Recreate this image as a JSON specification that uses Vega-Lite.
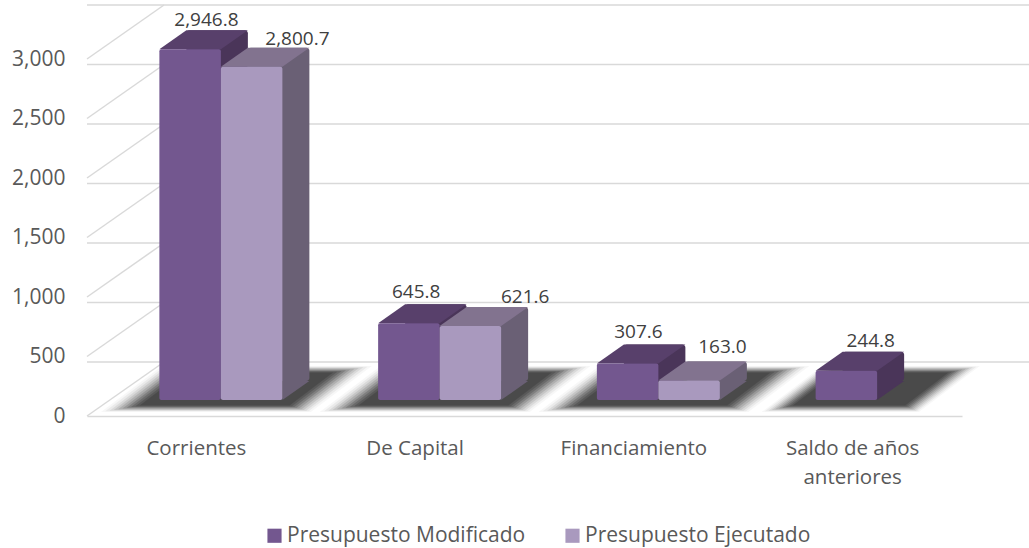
{"$schema":"https://vega.github.io/schema/vega-lite/v6.json","width":875,"height":357,"autosize":"none","padding":{"left":87,"top":59,"right":67,"bottom":132},"background":"white","config":{"view":{"stroke":null},"font":"Open Sans","axis":{"grid":false,"ticks":false},"axisX":{"labelAngle":0,"domain":true,"domainColor":"#d9d9d9","domainWidth":1.5,"labelFont":"Open Sans","labelFontSize":20.5,"labelColor":"#595959","labelPadding":22,"labelLimit":300,"labelLineHeight":29},"axisY":{"domain":false,"labelFont":"Open Sans","labelFontSize":21,"labelColor":"#595959","labelPadding":22}},"datasets":{"barras":[{"Categoria":"Corrientes","Serie":"Presupuesto Modificado","Valor":2946.8},{"Categoria":"Corrientes","Serie":"Presupuesto Ejecutado","Valor":2800.7},{"Categoria":"De Capital","Serie":"Presupuesto Modificado","Valor":645.8},{"Categoria":"De Capital","Serie":"Presupuesto Ejecutado","Valor":621.6},{"Categoria":"Financiamiento","Serie":"Presupuesto Modificado","Valor":307.6},{"Categoria":"Financiamiento","Serie":"Presupuesto Ejecutado","Valor":163.0},{"Categoria":"Saldo de años anteriores","Serie":"Presupuesto Modificado","Valor":244.8}],"marcas":[{"Marca":0},{"Marca":500},{"Marca":1000},{"Marca":1500},{"Marca":2000},{"Marca":2500},{"Marca":3000}]},"layer":[{"data":{"name":"marcas"},"mark":{"type":"rule","color":"#d9d9d9","strokeWidth":1.5,"xOffset":77,"x2Offset":77,"yOffset":-54},"encoding":{"y":{"field":"Marca","type":"quantitative","title":null,"scale":{"domain":[0,3000]},"axis":{"title":null,"labelExpr":"format(datum.value, ',')","values":[0,500,1000,1500,2000,2500,3000]}}}},{"data":{"name":"marcas"},"mark":{"type":"point","shape":"M0,0L0.77,-0.54","size":40000,"filled":false,"opacity":1,"stroke":"#d9d9d9","strokeWidth":1.5},"encoding":{"x":{"datum":"Corrientes","type":"nominal","title":null,"bandPosition":0,"scale":{"domain":["Corrientes","De Capital","Financiamiento","Saldo de años anteriores"],"paddingInner":0,"paddingOuter":0}},"y":{"field":"Marca","type":"quantitative","title":null}}},{"data":{"name":"barras"},"encoding":{"x":{"field":"Categoria","type":"nominal","sort":null,"scale":{"domain":["Corrientes","De Capital","Financiamiento","Saldo de años anteriores"],"paddingInner":0,"paddingOuter":0},"axis":{"title":null,"labelExpr":"datum.value == 'Saldo de años anteriores' ? ['Saldo de años','anteriores'] : datum.value"}},"y":{"field":"Valor","type":"quantitative","title":null}},"layer":[{"transform":[{"filter":"datum.Serie == 'Presupuesto Modificado' && datum.Categoria != 'Saldo de años anteriores'"}],"layer":[{"mark":{"type":"point","shape":"M-1.29,0.22L-0.71,-0.22L1.29,-0.22L0.71,0.22Z","size":44100,"filled":true,"fill":"#000","opacity":0.03,"strokeWidth":0,"xOffset":40,"yOffset":-27},"encoding":{"y":{"datum":0,"title":null}}},{"mark":{"type":"point","shape":"M-1.29,0.22L-0.71,-0.22L1.29,-0.22L0.71,0.22Z","size":41370,"filled":true,"fill":"#000","opacity":0.05,"strokeWidth":0,"xOffset":40,"yOffset":-27},"encoding":{"y":{"datum":0,"title":null}}},{"mark":{"type":"point","shape":"M-1.29,0.22L-0.71,-0.22L1.29,-0.22L0.71,0.22Z","size":38650,"filled":true,"fill":"#000","opacity":0.07,"strokeWidth":0,"xOffset":40,"yOffset":-27},"encoding":{"y":{"datum":0,"title":null}}},{"mark":{"type":"point","shape":"M-1.29,0.22L-0.71,-0.22L1.29,-0.22L0.71,0.22Z","size":36100,"filled":true,"fill":"#000","opacity":0.09,"strokeWidth":0,"xOffset":40,"yOffset":-27},"encoding":{"y":{"datum":0,"title":null}}},{"mark":{"type":"point","shape":"M-1.29,0.22L-0.71,-0.22L1.29,-0.22L0.71,0.22Z","size":33640,"filled":true,"fill":"#000","opacity":0.11,"strokeWidth":0,"xOffset":40,"yOffset":-27},"encoding":{"y":{"datum":0,"title":null}}},{"mark":{"type":"point","shape":"M-1.29,0.22L-0.71,-0.22L1.29,-0.22L0.71,0.22Z","size":31190,"filled":true,"fill":"#000","opacity":0.13,"strokeWidth":0,"xOffset":40,"yOffset":-27},"encoding":{"y":{"datum":0,"title":null}}},{"mark":{"type":"point","shape":"M-1.29,0.22L-0.71,-0.22L1.29,-0.22L0.71,0.22Z","size":28900,"filled":true,"fill":"#000","opacity":0.16,"strokeWidth":0,"xOffset":40,"yOffset":-27},"encoding":{"y":{"datum":0,"title":null}}},{"mark":{"type":"point","shape":"M-1.29,0.22L-0.71,-0.22L1.29,-0.22L0.71,0.22Z","size":26700,"filled":true,"fill":"#000","opacity":0.16,"strokeWidth":0,"xOffset":40,"yOffset":-27},"encoding":{"y":{"datum":0,"title":null}}},{"mark":{"type":"point","shape":"M-1.29,0.22L-0.71,-0.22L1.29,-0.22L0.71,0.22Z","size":24520,"filled":true,"fill":"#000","opacity":0.16,"strokeWidth":0,"xOffset":40,"yOffset":-27},"encoding":{"y":{"datum":0,"title":null}}},{"mark":{"type":"point","shape":"M-1.29,0.22L-0.71,-0.22L1.29,-0.22L0.71,0.22Z","size":22500,"filled":true,"fill":"#000","opacity":0.16,"strokeWidth":0,"xOffset":40,"yOffset":-27},"encoding":{"y":{"datum":0,"title":null}}}]},{"transform":[{"filter":"datum.Categoria == 'Saldo de años anteriores'"}],"layer":[{"mark":{"type":"point","shape":"M-1.04,0.22L-0.46,-0.22L1.04,-0.22L0.46,0.22Z","size":44100,"filled":true,"fill":"#000","opacity":0.03,"strokeWidth":0,"xOffset":18,"yOffset":-27},"encoding":{"y":{"datum":0,"title":null}}},{"mark":{"type":"point","shape":"M-1.04,0.22L-0.46,-0.22L1.04,-0.22L0.46,0.22Z","size":41370,"filled":true,"fill":"#000","opacity":0.05,"strokeWidth":0,"xOffset":18,"yOffset":-27},"encoding":{"y":{"datum":0,"title":null}}},{"mark":{"type":"point","shape":"M-1.04,0.22L-0.46,-0.22L1.04,-0.22L0.46,0.22Z","size":38650,"filled":true,"fill":"#000","opacity":0.07,"strokeWidth":0,"xOffset":18,"yOffset":-27},"encoding":{"y":{"datum":0,"title":null}}},{"mark":{"type":"point","shape":"M-1.04,0.22L-0.46,-0.22L1.04,-0.22L0.46,0.22Z","size":36100,"filled":true,"fill":"#000","opacity":0.09,"strokeWidth":0,"xOffset":18,"yOffset":-27},"encoding":{"y":{"datum":0,"title":null}}},{"mark":{"type":"point","shape":"M-1.04,0.22L-0.46,-0.22L1.04,-0.22L0.46,0.22Z","size":33640,"filled":true,"fill":"#000","opacity":0.11,"strokeWidth":0,"xOffset":18,"yOffset":-27},"encoding":{"y":{"datum":0,"title":null}}},{"mark":{"type":"point","shape":"M-1.04,0.22L-0.46,-0.22L1.04,-0.22L0.46,0.22Z","size":31190,"filled":true,"fill":"#000","opacity":0.13,"strokeWidth":0,"xOffset":18,"yOffset":-27},"encoding":{"y":{"datum":0,"title":null}}},{"mark":{"type":"point","shape":"M-1.04,0.22L-0.46,-0.22L1.04,-0.22L0.46,0.22Z","size":28900,"filled":true,"fill":"#000","opacity":0.16,"strokeWidth":0,"xOffset":18,"yOffset":-27},"encoding":{"y":{"datum":0,"title":null}}},{"mark":{"type":"point","shape":"M-1.04,0.22L-0.46,-0.22L1.04,-0.22L0.46,0.22Z","size":26700,"filled":true,"fill":"#000","opacity":0.16,"strokeWidth":0,"xOffset":18,"yOffset":-27},"encoding":{"y":{"datum":0,"title":null}}},{"mark":{"type":"point","shape":"M-1.04,0.22L-0.46,-0.22L1.04,-0.22L0.46,0.22Z","size":24520,"filled":true,"fill":"#000","opacity":0.16,"strokeWidth":0,"xOffset":18,"yOffset":-27},"encoding":{"y":{"datum":0,"title":null}}},{"mark":{"type":"point","shape":"M-1.04,0.22L-0.46,-0.22L1.04,-0.22L0.46,0.22Z","size":22500,"filled":true,"fill":"#000","opacity":0.16,"strokeWidth":0,"xOffset":18,"yOffset":-27},"encoding":{"y":{"datum":0,"title":null}}}]},{"transform":[{"filter":"datum.Serie == 'Presupuesto Modificado'"}],"layer":[{"mark":{"type":"bar","fill":"#4a3559","width":61.5,"cornerRadius":3,"xOffset":20.75,"yOffset":-35,"y2Offset":-35},"encoding":{"y2":{"datum":0}}},{"mark":{"type":"point","shape":"M0.3075,0L0.5775,-0.19L0.3075,-0.19Z","size":40000,"filled":true,"fill":"#4a3559","opacity":1,"strokeWidth":0,"xOffset":-6.25,"yOffset":-16},"encoding":{"y":{"datum":0,"title":null}}},{"mark":{"type":"point","shape":"M-0.3075,0L0.3075,0L0.5775,-0.19L-0.0375,-0.19Z","size":40000,"filled":true,"fill":"#58406b","opacity":1,"strokeWidth":0,"xOffset":-6.25,"yOffset":-16}},{"mark":{"type":"bar","width":61.5,"cornerRadius":2,"xOffset":-6.25,"yOffset":-16,"y2Offset":-16},"encoding":{"y2":{"datum":0},"color":{"field":"Serie","type":"nominal","scale":{"domain":["Presupuesto Modificado","Presupuesto Ejecutado"],"range":["#73578f","#a999be"]},"legend":{"title":null,"orient":"none","legendX":177,"legendY":466,"direction":"horizontal","symbolType":"square","symbolSize":200,"symbolStrokeWidth":0,"labelFont":"Open Sans","labelFontSize":21,"labelColor":"#595959","labelLimit":400,"columnPadding":36,"labelOffset":2}}}}]},{"transform":[{"filter":"datum.Serie == 'Presupuesto Ejecutado'"}],"layer":[{"mark":{"type":"bar","fill":"#6a6075","width":61.5,"cornerRadius":3,"xOffset":82.25,"yOffset":-35,"y2Offset":-35},"encoding":{"y2":{"datum":0}}},{"mark":{"type":"point","shape":"M0.3075,0L0.5775,-0.19L0.3075,-0.19Z","size":40000,"filled":true,"fill":"#6a6075","opacity":1,"strokeWidth":0,"xOffset":55.25,"yOffset":-16},"encoding":{"y":{"datum":0,"title":null}}},{"mark":{"type":"point","shape":"M-0.3075,0L0.3075,0L0.5775,-0.19L-0.0375,-0.19Z","size":40000,"filled":true,"fill":"#82738f","opacity":1,"strokeWidth":0,"xOffset":55.25,"yOffset":-16}},{"mark":{"type":"bar","width":61.5,"cornerRadius":2,"xOffset":55.25,"yOffset":-16,"y2Offset":-16},"encoding":{"y2":{"datum":0},"color":{"field":"Serie","type":"nominal"}}}]},{"transform":[{"filter":"datum.Valor == 2946.8"}],"mark":{"type":"text","font":"Open Sans","fontSize":19,"fill":"#404040","baseline":"middle","dx":10,"dy":-45},"encoding":{"text":{"field":"Valor","format":",.1f"}}},{"transform":[{"filter":"datum.Valor == 2800.7"}],"mark":{"type":"text","font":"Open Sans","fontSize":19,"fill":"#404040","baseline":"middle","dx":101,"dy":-44},"encoding":{"text":{"field":"Valor","format":",.1f"}}},{"transform":[{"filter":"datum.Valor == 645.8"}],"mark":{"type":"text","font":"Open Sans","fontSize":19,"fill":"#404040","baseline":"middle","dx":1,"dy":-47},"encoding":{"text":{"field":"Valor","format":",.1f"}}},{"transform":[{"filter":"datum.Valor == 621.6"}],"mark":{"type":"text","font":"Open Sans","fontSize":19,"fill":"#404040","baseline":"middle","dx":110,"dy":-45},"encoding":{"text":{"field":"Valor","format":",.1f"}}},{"transform":[{"filter":"datum.Valor == 307.6"}],"mark":{"type":"text","font":"Open Sans","fontSize":19,"fill":"#404040","baseline":"middle","dx":4.5,"dy":-47},"encoding":{"text":{"field":"Valor","format":",.1f"}}},{"transform":[{"filter":"datum.Valor == 163.0"}],"mark":{"type":"text","font":"Open Sans","fontSize":19,"fill":"#404040","baseline":"middle","dx":88.5,"dy":-50},"encoding":{"text":{"field":"Valor","format":",.1f"}}},{"transform":[{"filter":"datum.Valor == 244.8"}],"mark":{"type":"text","font":"Open Sans","fontSize":19,"fill":"#404040","baseline":"middle","dx":18,"dy":-46},"encoding":{"text":{"field":"Valor","format":",.1f"}}}]}]}
